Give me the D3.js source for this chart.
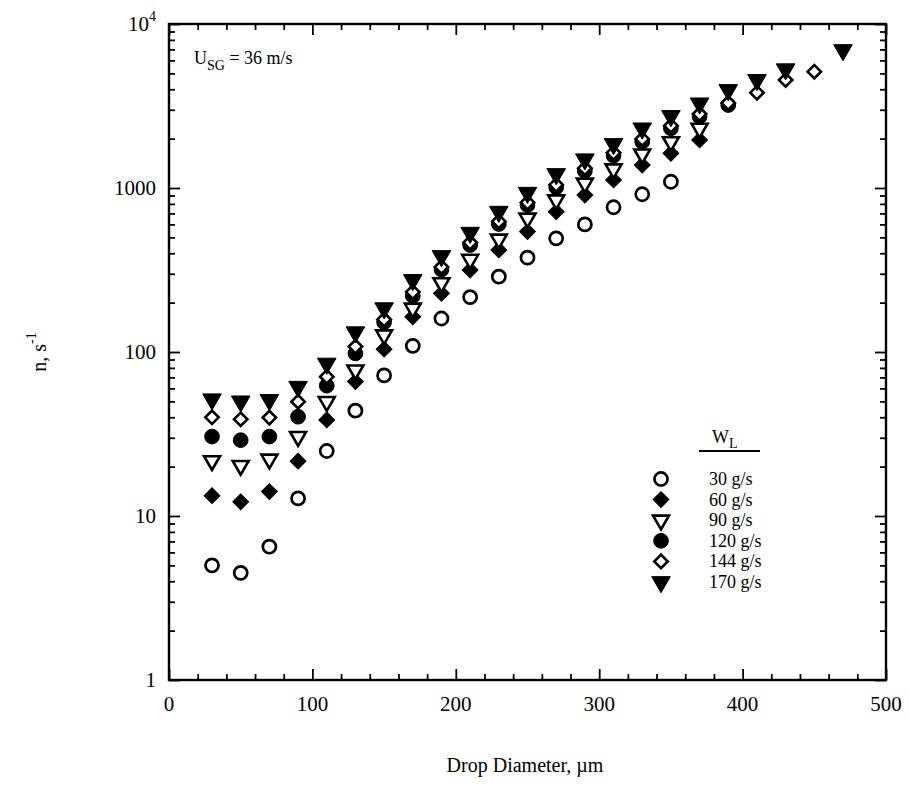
<!DOCTYPE html>
<html>
<head>
<meta charset="utf-8">
<script src="https://cdn.jsdelivr.net/npm/d3@7"></script>
<style>
  body { margin: 0; background: #fff; }
  svg { display: block; }
  svg text { font-family: "Liberation Serif", "Times New Roman", Times, "DejaVu Serif", serif; fill: #000; }
</style>
</head>
<body>
<svg id="chart" width="910" height="792" font-family="Liberation Serif, Times New Roman, serif"></svg>
<script>
// ---- data ----
const xTicks = [0, 100, 200, 300, 400, 500];
const yTicks = [1, 10, 100, 1000, 10000];
const yTickLabels = ["1", "10", "100", "1000", "10^4"];

const series = ["30 g/s", "60 g/s", "90 g/s", "120 g/s", "144 g/s", "170 g/s"];

const x30 = [30, 50, 70, 90, 110, 130, 150, 170, 190, 210, 230, 250, 270, 290, 310, 330, 350];
const y30 = [5.0, 4.5, 6.5, 12.8, 24.9, 43.9, 72, 109, 160, 216, 288, 376, 493, 600, 763, 916, 1092];

const x60 = [30, 50, 70, 90, 110, 130, 150, 170, 190, 210, 230, 250, 270, 290, 310, 330, 350, 370];
const y60 = [13.3, 12.2, 14.1, 21.6, 38.5, 66, 104, 164, 228, 316, 419, 542, 717, 906, 1120, 1380, 1627, 1963];

const x90 = [30, 50, 70, 90, 110, 130, 150, 170, 190, 210, 230, 250, 270, 290, 310, 330, 350, 370];
const y90 = [21.7, 20.3, 22.2, 30.5, 49.8, 77.6, 127, 185, 264, 367, 487, 654, 845, 1069, 1306, 1611, 1913, 2310];

const x120 = [30, 50, 70, 90, 110, 130, 150, 170, 190, 210, 230, 250, 270, 290, 310, 330, 350, 370, 390];
const y120 = [30.5, 29, 30.5, 40.3, 62.3, 98, 152, 220, 318, 449, 603, 787, 1009, 1270, 1574, 1913, 2310, 2722, 3206];

const x144 = [30, 50, 70, 90, 110, 130, 150, 170, 190, 210, 230, 250, 270, 290, 310, 330, 350, 370, 390, 410, 430, 450];
const y144 = [40, 38.9, 39.8, 49.8, 70.7, 108, 158, 232, 330, 465, 625, 815, 1045, 1320, 1640, 1990, 2400, 2830, 3300, 3810, 4560, 5120];

const x170 = [30, 50, 70, 90, 110, 130, 150, 170, 190, 210, 230, 250, 270, 290, 310, 330, 350, 370, 390, 410, 430, 470];
const y170 = [51.5, 50, 51, 61.4, 85, 132, 185, 275, 385, 534, 717, 936, 1217, 1497, 1855, 2310, 2749, 3282, 3960, 4560, 5300, 6940];

const allX = [x30, x60, x90, x120, x144, x170];
const allY = [y30, y60, y90, y120, y144, y170];

// ---- layout ----
const svg = d3.select("#chart");
const L = 169, R = 886, T = 24, B = 680;
const FONT = "Liberation Serif, Times New Roman, serif";

const x = d3.scaleLinear().domain([0, 500]).range([L, R]);
const y = d3.scaleLog().domain([1, 10000]).range([B, T]);

// marker styles per series
const styles = [
  { type: d3.symbolCircle, size: 135, fill: "#fff", stroke: "#000", sw: 2.7, rot: 0 },
  { type: d3.symbolSquare, size: 125, fill: "#000", stroke: "#000", sw: 1, rot: 45 },
  { type: d3.symbolTriangle, size: 110, fill: "#fff", stroke: "#000", sw: 2.6, rot: 180 },
  { type: d3.symbolCircle, size: 170, fill: "#000", stroke: "#000", sw: 1, rot: 0 },
  { type: d3.symbolSquare, size: 90, fill: "#fff", stroke: "#000", sw: 2.6, rot: 45 },
  { type: d3.symbolTriangle, size: 150, fill: "#000", stroke: "#000", sw: 1, rot: 180 }
];

// ---- frame & ticks ----
const g = svg.append("g").attr("font-family", FONT);

const yMinor = [];
for (let d = 1; d < 10000; d *= 10) for (let k = 2; k <= 9; k++) yMinor.push(d * k);
const xMinor = d3.range(20, 500, 20).filter(v => v % 100 !== 0);

const axisStyle = sel => {
  sel.select(".domain").remove();
  sel.selectAll("line").attr("stroke", "#000").attr("stroke-width", 1.8);
  sel.selectAll("text").remove();
};

g.append("g").attr("transform", `translate(0,${B})`)
  .call(d3.axisTop(x).tickValues(xTicks).tickSize(11).tickFormat("")).call(axisStyle);
g.append("g").attr("transform", `translate(0,${B})`)
  .call(d3.axisTop(x).tickValues(xMinor).tickSize(6).tickFormat("")).call(axisStyle);
g.append("g").attr("transform", `translate(0,${T})`)
  .call(d3.axisBottom(x).tickValues(xTicks).tickSize(11).tickFormat("")).call(axisStyle);
g.append("g").attr("transform", `translate(0,${T})`)
  .call(d3.axisBottom(x).tickValues(xMinor).tickSize(6).tickFormat("")).call(axisStyle);
g.append("g").attr("transform", `translate(${L},0)`)
  .call(d3.axisRight(y).tickValues(yTicks).tickSize(11).tickFormat("")).call(axisStyle);
g.append("g").attr("transform", `translate(${L},0)`)
  .call(d3.axisRight(y).tickValues(yMinor).tickSize(6).tickFormat("")).call(axisStyle);
g.append("g").attr("transform", `translate(${R},0)`)
  .call(d3.axisLeft(y).tickValues(yTicks).tickSize(11).tickFormat("")).call(axisStyle);
g.append("g").attr("transform", `translate(${R},0)`)
  .call(d3.axisLeft(y).tickValues(yMinor).tickSize(6).tickFormat("")).call(axisStyle);

g.append("rect").attr("x", L).attr("y", T).attr("width", R - L).attr("height", B - T)
  .attr("fill", "none").attr("stroke", "#000").attr("stroke-width", 2.4);

// tick labels
const fs = 21;
g.selectAll(".xl").data(xTicks).enter().append("text")
  .attr("font-family", FONT)
  .attr("x", d => x(d)).attr("y", B + 31)
  .attr("text-anchor", "middle").attr("font-size", fs).text(d => d);

yTicks.forEach((d, i) => {
  const lab = yTickLabels[i];
  const t = g.append("text").attr("font-family", FONT).attr("x", L - 13).attr("y", y(d) + 7)
    .attr("text-anchor", "end").attr("font-size", fs);
  if (lab.includes("^")) {
    const [b, e] = lab.split("^");
    t.append("tspan").text(b);
    t.append("tspan").attr("font-size", 14).attr("dy", -10).text(e);
  } else t.text(lab);
});

// axis titles
g.append("text").attr("font-family", FONT).attr("x", 525).attr("y", 772)
  .attr("text-anchor", "middle").attr("font-size", 20).text("Drop Diameter, \u00b5m");

const yt = g.append("text").attr("font-family", FONT).attr("transform", "translate(46,352) rotate(-90)")
  .attr("text-anchor", "middle").attr("font-size", 20);
yt.append("tspan").text("n, s");
yt.append("tspan").attr("font-size", 14).attr("dy", -10).text("-1");

// annotation
const ann = g.append("text").attr("font-family", FONT).attr("x", 194).attr("y", 64).attr("font-size", 18);
ann.append("tspan").text("U");
ann.append("tspan").attr("font-size", 14).attr("dy", 6).text("SG");
ann.append("tspan").attr("dy", -6).text(" = 36 m/s");

// ---- data markers ----
allX.forEach((xs, si) => {
  const st = styles[si];
  const sym = d3.symbol().type(st.type).size(st.size);
  g.append("g").selectAll("path").data(xs.map((v, i) => [v, allY[si][i]])).enter()
    .append("path")
    .attr("d", sym)
    .attr("transform", d => `translate(${x(d[0])},${y(d[1])}) rotate(${st.rot})`)
    .attr("fill", st.fill).attr("stroke", st.stroke).attr("stroke-width", st.sw);
});

// ---- legend ----
const lg = g.append("g");
const hdr = lg.append("text").attr("font-family", FONT).attr("x", 712).attr("y", 443).attr("font-size", 18);
hdr.append("tspan").text("W");
hdr.append("tspan").attr("font-size", 14).attr("dy", 5).text("L");
lg.append("line").attr("x1", 699).attr("x2", 760).attr("y1", 451).attr("y2", 451)
  .attr("stroke", "#000").attr("stroke-width", 2.2);

series.forEach((name, i) => {
  const st = styles[i];
  const yy = 479 + i * 20.6;
  lg.append("path").attr("d", d3.symbol().type(st.type).size(st.size)())
    .attr("transform", `translate(661,${yy}) rotate(${st.rot})`)
    .attr("fill", st.fill).attr("stroke", st.stroke).attr("stroke-width", st.sw);
  lg.append("text").attr("font-family", FONT).attr("x", 709).attr("y", yy + 6).attr("font-size", 18).text(name);
});
</script>
</body>
</html>
